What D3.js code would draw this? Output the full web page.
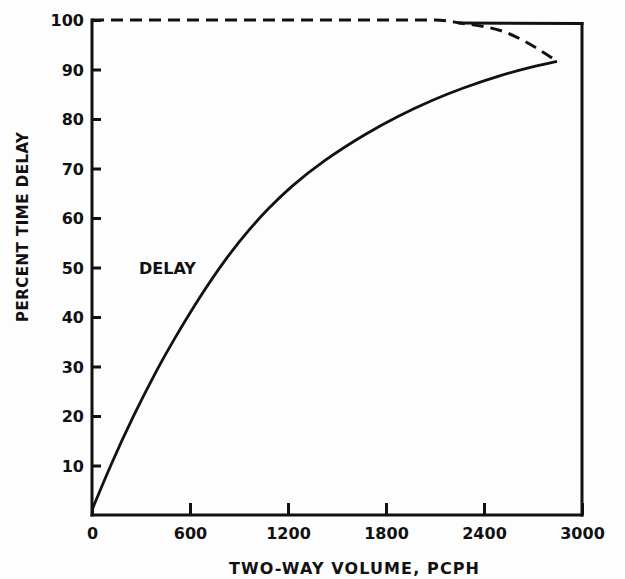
<!DOCTYPE html>
<html>
<head>
<meta charset="utf-8">
<script src="https://cdn.jsdelivr.net/npm/d3@7"></script>
<style>
  body { margin: 0; background: #fdfdfd; }
  text { font-family: "DejaVu Sans", sans-serif; font-weight: bold; fill: #111; }
</style>
</head>
<body>
<div id="chart"></div>
<script>
// delay curve (solid)
var volume = [0, 110, 253, 406, 488, 661, 825, 967, 1079, 1212, 1416, 1684, 1867, 2088, 2271, 2498, 2681, 2847];
var delay  = [1, 9.8, 20.1, 29.9, 34.7, 44.2, 52.1, 57.9, 61.9, 66.2, 71.6, 77.2, 80.5, 83.9, 86.3, 88.8, 90.45, 91.65];

// dashed upper branch, from the 100% line back down to the tip
var upperVolume = [0, 2100, 2253, 2541, 2743, 2847];
var upperDelay  = [100, 100, 99.4, 97.4, 93.9, 91.65];

var xTicks = [0, 600, 1200, 1800, 2400, 3000];
var yTicks = [10, 20, 30, 40, 50, 60, 70, 80, 90, 100];

const width = 625;
const height = 579;
const margin = { top: 20, right: 43, bottom: 64, left: 92 };

var svg = d3.select("#chart")
    .append("svg")
    .attr("width", width)
    .attr("height", height);

var x = d3.scaleLinear()
    .domain([0, 3000])
    .range([margin.left, width - margin.right]);

var y = d3.scaleLinear()
    .domain([0, 100])
    .range([height - margin.bottom, margin.top]);

// axes, ticks pointing inward
var xAxis = svg.append("g")
    .attr("transform", "translate(0," + y(0) + ")")
    .call(d3.axisBottom(x).tickValues(xTicks).tickFormat(d3.format("d"))
        .tickSizeInner(-12).tickSizeOuter(0).tickPadding(10));

var yAxis = svg.append("g")
    .attr("transform", "translate(" + x(0) + ",0)")
    .call(d3.axisLeft(y).tickValues(yTicks).tickFormat(d3.format("d"))
        .tickSizeInner(-9).tickSizeOuter(0).tickPadding(8));

[xAxis, yAxis].forEach(function (g) {
    g.select(".domain").remove();
    g.selectAll(".tick line").attr("stroke", "#111").attr("stroke-width", 3);
    g.selectAll(".tick text")
        .style("font-size", "16px")
        .style("font-family", "'DejaVu Sans', sans-serif")
        .style("font-weight", "bold")
        .attr("fill", "#111");
});
yAxis.selectAll(".tick text").attr("dy", "0.36em");
xAxis.selectAll(".tick text").attr("dy", "0.9em");

// frame: left, bottom, right, and the solid piece of the top
var frame = [
    [[0, 100], [0, 0]],
    [[0, 0], [3000, 0]],
    [[3000, 0], [3000, 99.3]],
    [[2253, 99.4], [3000, 99.3]]
];
var line = d3.line().x(d => x(d[0])).y(d => y(d[1]));

svg.selectAll(".frame")
    .data(frame)
    .enter()
    .append("path")
    .attr("class", "frame")
    .attr("d", line)
    .attr("fill", "none")
    .attr("stroke", "#111")
    .attr("stroke-width", 3)
    .attr("stroke-linecap", "square");

// basis smooths out the reading noise in the solid curve
var smooth = d3.line()
    .x(d => x(d[0]))
    .y(d => y(d[1]))
    .curve(d3.curveBasis);

var curve = d3.line()
    .x(d => x(d[0]))
    .y(d => y(d[1]))
    .curve(d3.curveMonotoneX);

svg.append("path")
    .datum(volume.map((v, i) => [v, delay[i]]))
    .attr("fill", "none")
    .attr("stroke", "#111")
    .attr("stroke-width", 2.8)
    .attr("d", smooth);

svg.append("path")
    .datum(upperVolume.map((v, i) => [v, upperDelay[i]]))
    .attr("fill", "none")
    .attr("stroke", "#111")
    .attr("stroke-width", 3)
    .attr("stroke-dasharray", "12,7")
    .attr("d", curve);

// labels
svg.append("text")
    .attr("x", 139)
    .attr("y", 274)
    .style("font-size", "16px")
    .text("DELAY");

svg.append("text")
    .attr("x", 354)
    .attr("y", 574)
    .attr("text-anchor", "middle")
    .attr("textLength", 250)
    .style("font-size", "16px")
    .text("TWO-WAY VOLUME, PCPH");

svg.append("text")
    .attr("transform", "translate(28,227) rotate(-90)")
    .attr("text-anchor", "middle")
    .attr("textLength", 190)
    .style("font-size", "15px")
    .text("PERCENT TIME DELAY");
</script>
</body>
</html>
